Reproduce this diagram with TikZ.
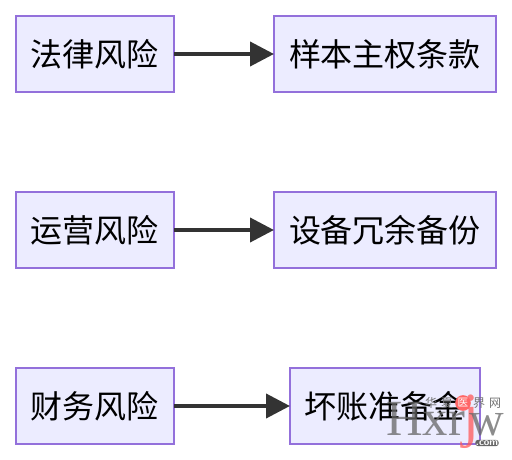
\documentclass[tikz,border=0pt]{standalone}
\usepackage{fontspec}
\usepackage{tikz}
\usetikzlibrary{arrows.meta, positioning}
\setmainfont{Noto Sans CJK SC}
\newfontfamily\markfont{Liberation Serif}
\definecolor{boxfill}{HTML}{ECECFF}
\definecolor{boxline}{HTML}{9370DB}
\definecolor{flowline}{HTML}{333333}
\begin{document}
\begin{tikzpicture}[
        x=0.75pt, y=0.75pt,
        box/.style={draw=boxline, fill=boxfill, line width=1.5pt, outer sep=0pt, minimum height=57pt, inner sep=0pt, align=center, font=\fontsize{24pt}{28pt}\selectfont},
        risk/.style={box, minimum width=118.5pt},
        plan/.style={box, minimum width=166.5pt},
        flow/.style={-{Triangle[length=18pt, width=18pt]}, line width=3pt, flowline},
        wmark/.style={inner sep=0pt, anchor=base west, opacity=0.75},
        wsmall/.style={inner sep=0pt, text=black!55, font=\fontsize{9pt}{9pt}\selectfont}
    ]
        \useasboundingbox (0,0) rectangle (512,-460);
        \node[risk, anchor=north west] (legal) at (16,-16) {法律风险};
        \node[plan, right=75pt of legal] (sample) {样本主权条款};
        \node[risk, below=75pt of legal] (ops) {运营风险};
        \node[plan, right=75pt of ops] (backup) {设备冗余备份};
        \node[risk, below=75pt of ops] (money) {财务风险};
        \node[box, minimum width=142.5pt, right=87pt of money] (reserve) {坏账准备金};

        \draw[flow] (legal) -- (sample);
        \draw[flow] (ops) -- (backup);
        \draw[flow] (money) -- (reserve);

        % watermark
        \node[wmark, font=\markfont\fontsize{38pt}{38pt}\selectfont, text=black!60] (markleft) at (386,-436) {Hxr};
        \node[wmark, font=\markfont\fontsize{46pt}{46pt}\selectfont, text=red!65] (markj) at (462,-436) {j};
        \node[wmark, font=\markfont\fontsize{36pt}{36pt}\selectfont, text=black!60] (markw) at (469,-436) {w};
        \node[wsmall] (markhua) at (431,-403) {华};
        \node[wsmall] (markxia) at (447,-403) {夏};
        \node[circle, fill=red!60, text=white, inner sep=0.5pt, font=\fontsize{8pt}{8pt}\selectfont] (markyi) at (463,-403) {医};
        \node[wsmall] (markjie) at (479,-403) {界};
        \node[wsmall] (markwang) at (495,-403) {网};
        \node[fill=black!60, text=white, rounded corners=2pt, inner sep=0.5pt, font=\sffamily\bfseries\fontsize{7.5pt}{7.5pt}\selectfont] (markcom) at (487,-443) {.com};
    \end{tikzpicture}
\end{document}
